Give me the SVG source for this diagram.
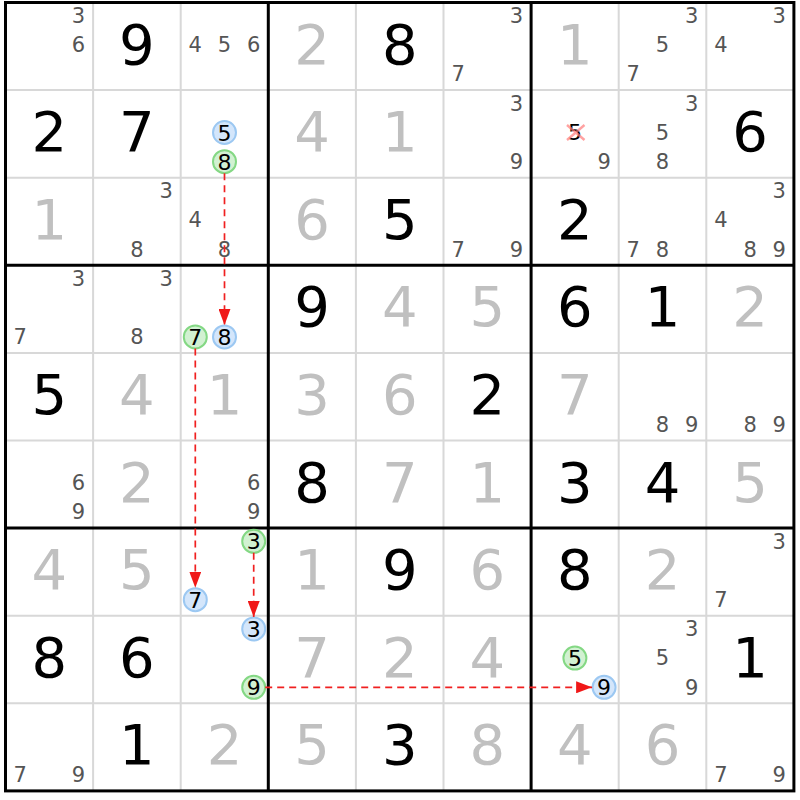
<svg xmlns="http://www.w3.org/2000/svg" width="800" height="800" viewBox="0 0 800 800">
<style>
text{font-family:"DejaVu Sans","Liberation Sans",sans-serif;text-anchor:middle}
.g{font-size:56px;fill:#000}
.s{font-size:56px;fill:#c0c0c0}
.c{font-size:21px;fill:#555}
.k{font-size:22px;fill:#000}
.thin{stroke:#d8d8d8;stroke-width:2;fill:none}
.thick{stroke:#000;stroke-width:3;fill:none}
.blue{fill:#d4e6fb;stroke:#9cc8f2;stroke-width:2}
.green{fill:#d2f1d2;stroke:#84d884;stroke-width:2}
.link{stroke:#f02020;stroke-width:1.7;stroke-dasharray:7,5;fill:none;marker-end:url(#ah)}
.x{stroke:#ff7a7a;stroke-opacity:0.7;stroke-width:2.4}
</style>
<defs>
<marker id="ah" markerUnits="userSpaceOnUse" markerWidth="16" markerHeight="12" refX="16" refY="6" orient="auto"><path d="M0,0 L16,6 L0,12 z" fill="#f01818"/></marker>
</defs>
<rect width="800" height="800" fill="#fff"/>
<g id="grid">
<path class="thin" d="M93.1,2.5V790.9M180.7,2.5V790.9M355.9,2.5V790.9M443.5,2.5V790.9M618.7,2.5V790.9M706.3,2.5V790.9M5.5,90.1H793.9M5.5,177.7H793.9M5.5,352.9H793.9M5.5,440.5H793.9M5.5,615.7H793.9M5.5,703.3H793.9"/>
<path class="thick" d="M268.3,2.5V790.9M531.1,2.5V790.9M5.5,265.3H793.9M5.5,528.1H793.9"/>
<rect class="thick" x="5.5" y="2.5" width="788.4" height="788.4"/>
</g>
<g id="r1c1"><text class="c" x="78.5" y="23">3</text><text class="c" x="78.5" y="52.2">6</text></g>
<g id="r1c2"><text class="g" x="136.9" y="63.5">9</text></g>
<g id="r1c3"><text class="c" x="195.3" y="52.2">4</text><text class="c" x="224.5" y="52.2">5</text><text class="c" x="253.7" y="52.2">6</text></g>
<g id="r1c4"><text class="s" x="312.1" y="63.5">2</text></g>
<g id="r1c5"><text class="g" x="399.7" y="63.5">8</text></g>
<g id="r1c6"><text class="c" x="516.5" y="23">3</text><text class="c" x="458.1" y="81.4">7</text></g>
<g id="r1c7"><text class="s" x="574.9" y="63.5">1</text></g>
<g id="r1c8"><text class="c" x="691.7" y="23">3</text><text class="c" x="662.5" y="52.2">5</text><text class="c" x="633.3" y="81.4">7</text></g>
<g id="r1c9"><text class="c" x="779.3" y="23">3</text><text class="c" x="720.9" y="52.2">4</text></g>

<g id="r2c1"><text class="g" x="49.3" y="151.1">2</text></g>
<g id="r2c2"><text class="g" x="136.9" y="151.1">7</text></g>
<g id="r2c3"><circle class="blue" cx="224.5" cy="132.5" r="11.5"/><text class="k" x="224.5" y="140.5">5</text><circle class="green" cx="224.5" cy="161.7" r="11.5"/><text class="k" x="224.5" y="169.7">8</text></g>
<g id="r2c4"><text class="s" x="312.1" y="151.1">4</text></g>
<g id="r2c5"><text class="s" x="399.7" y="151.1">1</text></g>
<g id="r2c6"><text class="c" x="516.5" y="110.6">3</text><text class="c" x="516.5" y="169">9</text></g>
<g id="r2c7"><text class="k" x="574.9" y="140.2">5</text><path class="x" d="M567,125L584.5,140M584.5,125L567,140"/><text class="c" x="604.1" y="169">9</text></g>
<g id="r2c8"><text class="c" x="691.7" y="110.6">3</text><text class="c" x="662.5" y="139.8">5</text><text class="c" x="662.5" y="169">8</text></g>
<g id="r2c9"><text class="g" x="750.1" y="151.1">6</text></g>

<g id="r3c1"><text class="s" x="49.3" y="238.7">1</text></g>
<g id="r3c2"><text class="c" x="166.1" y="198.2">3</text><text class="c" x="136.9" y="256.6">8</text></g>
<g id="r3c3"><text class="c" x="195.3" y="227.4">4</text><text class="c" x="224.5" y="256.6">8</text></g>
<g id="r3c4"><text class="s" x="312.1" y="238.7">6</text></g>
<g id="r3c5"><text class="g" x="399.7" y="238.7">5</text></g>
<g id="r3c6"><text class="c" x="458.1" y="256.6">7</text><text class="c" x="516.5" y="256.6">9</text></g>
<g id="r3c7"><text class="g" x="574.9" y="238.7">2</text></g>
<g id="r3c8"><text class="c" x="633.3" y="256.6">7</text><text class="c" x="662.5" y="256.6">8</text></g>
<g id="r3c9"><text class="c" x="779.3" y="198.2">3</text><text class="c" x="720.9" y="227.4">4</text><text class="c" x="750.1" y="256.6">8</text><text class="c" x="779.3" y="256.6">9</text></g>

<g id="r4c1"><text class="c" x="78.5" y="285.8">3</text><text class="c" x="20.1" y="344.2">7</text></g>
<g id="r4c2"><text class="c" x="166.1" y="285.8">3</text><text class="c" x="136.9" y="344.2">8</text></g>
<g id="r4c3"><circle class="green" cx="195.3" cy="336.9" r="11.5"/><text class="k" x="195.3" y="344.9">7</text><circle class="blue" cx="224.5" cy="336.9" r="11.5"/><text class="k" x="224.5" y="344.9">8</text></g>
<g id="r4c4"><text class="g" x="312.1" y="326.3">9</text></g>
<g id="r4c5"><text class="s" x="399.7" y="326.3">4</text></g>
<g id="r4c6"><text class="s" x="487.3" y="326.3">5</text></g>
<g id="r4c7"><text class="g" x="574.9" y="326.3">6</text></g>
<g id="r4c8"><text class="g" x="662.5" y="326.3">1</text></g>
<g id="r4c9"><text class="s" x="750.1" y="326.3">2</text></g>

<g id="r5c1"><text class="g" x="49.3" y="413.9">5</text></g>
<g id="r5c2"><text class="s" x="136.9" y="413.9">4</text></g>
<g id="r5c3"><text class="s" x="224.5" y="413.9">1</text></g>
<g id="r5c4"><text class="s" x="312.1" y="413.9">3</text></g>
<g id="r5c5"><text class="s" x="399.7" y="413.9">6</text></g>
<g id="r5c6"><text class="g" x="487.3" y="413.9">2</text></g>
<g id="r5c7"><text class="s" x="574.9" y="413.9">7</text></g>
<g id="r5c8"><text class="c" x="662.5" y="431.8">8</text><text class="c" x="691.7" y="431.8">9</text></g>
<g id="r5c9"><text class="c" x="750.1" y="431.8">8</text><text class="c" x="779.3" y="431.8">9</text></g>

<g id="r6c1"><text class="c" x="78.5" y="490.2">6</text><text class="c" x="78.5" y="519.4">9</text></g>
<g id="r6c2"><text class="s" x="136.9" y="501.5">2</text></g>
<g id="r6c3"><text class="c" x="253.7" y="490.2">6</text><text class="c" x="253.7" y="519.4">9</text></g>
<g id="r6c4"><text class="g" x="312.1" y="501.5">8</text></g>
<g id="r6c5"><text class="s" x="399.7" y="501.5">7</text></g>
<g id="r6c6"><text class="s" x="487.3" y="501.5">1</text></g>
<g id="r6c7"><text class="g" x="574.9" y="501.5">3</text></g>
<g id="r6c8"><text class="g" x="662.5" y="501.5">4</text></g>
<g id="r6c9"><text class="s" x="750.1" y="501.5">5</text></g>

<g id="r7c1"><text class="s" x="49.3" y="589.1">4</text></g>
<g id="r7c2"><text class="s" x="136.9" y="589.1">5</text></g>
<g id="r7c3"><circle class="green" cx="253.7" cy="541.3" r="11.5"/><text class="k" x="253.7" y="549.3">3</text><circle class="blue" cx="195.3" cy="599.7" r="11.5"/><text class="k" x="195.3" y="607.7">7</text></g>
<g id="r7c4"><text class="s" x="312.1" y="589.1">1</text></g>
<g id="r7c5"><text class="g" x="399.7" y="589.1">9</text></g>
<g id="r7c6"><text class="s" x="487.3" y="589.1">6</text></g>
<g id="r7c7"><text class="g" x="574.9" y="589.1">8</text></g>
<g id="r7c8"><text class="s" x="662.5" y="589.1">2</text></g>
<g id="r7c9"><text class="c" x="779.3" y="548.6">3</text><text class="c" x="720.9" y="607">7</text></g>

<g id="r8c1"><text class="g" x="49.3" y="676.7">8</text></g>
<g id="r8c2"><text class="g" x="136.9" y="676.7">6</text></g>
<g id="r8c3"><circle class="blue" cx="253.7" cy="628.9" r="11.5"/><text class="k" x="253.7" y="636.9">3</text><circle class="green" cx="253.7" cy="687.3" r="11.5"/><text class="k" x="253.7" y="695.3">9</text></g>
<g id="r8c4"><text class="s" x="312.1" y="676.7">7</text></g>
<g id="r8c5"><text class="s" x="399.7" y="676.7">2</text></g>
<g id="r8c6"><text class="s" x="487.3" y="676.7">4</text></g>
<g id="r8c7"><circle class="green" cx="574.9" cy="658.1" r="11.5"/><text class="k" x="574.9" y="666.1">5</text><circle class="blue" cx="604.1" cy="687.3" r="11.5"/><text class="k" x="604.1" y="695.3">9</text></g>
<g id="r8c8"><text class="c" x="691.7" y="636.2">3</text><text class="c" x="662.5" y="665.4">5</text><text class="c" x="691.7" y="694.6">9</text></g>
<g id="r8c9"><text class="g" x="750.1" y="676.7">1</text></g>

<g id="r9c1"><text class="c" x="20.1" y="782.2">7</text><text class="c" x="78.5" y="782.2">9</text></g>
<g id="r9c2"><text class="g" x="136.9" y="764.3">1</text></g>
<g id="r9c3"><text class="s" x="224.5" y="764.3">2</text></g>
<g id="r9c4"><text class="s" x="312.1" y="764.3">5</text></g>
<g id="r9c5"><text class="g" x="399.7" y="764.3">3</text></g>
<g id="r9c6"><text class="s" x="487.3" y="764.3">8</text></g>
<g id="r9c7"><text class="s" x="574.9" y="764.3">4</text></g>
<g id="r9c8"><text class="s" x="662.5" y="764.3">6</text></g>
<g id="r9c9"><text class="c" x="720.9" y="782.2">7</text><text class="c" x="779.3" y="782.2">9</text></g>

<g id="connectors">
<path class="link" d="M224.5,173.2V324.9"/>
<path class="link" d="M195.3,348.4V587.7"/>
<path class="link" d="M253.7,552.8V616.9"/>
<path class="link" d="M265.2,687.3H592.1"/>
</g>
</svg>
